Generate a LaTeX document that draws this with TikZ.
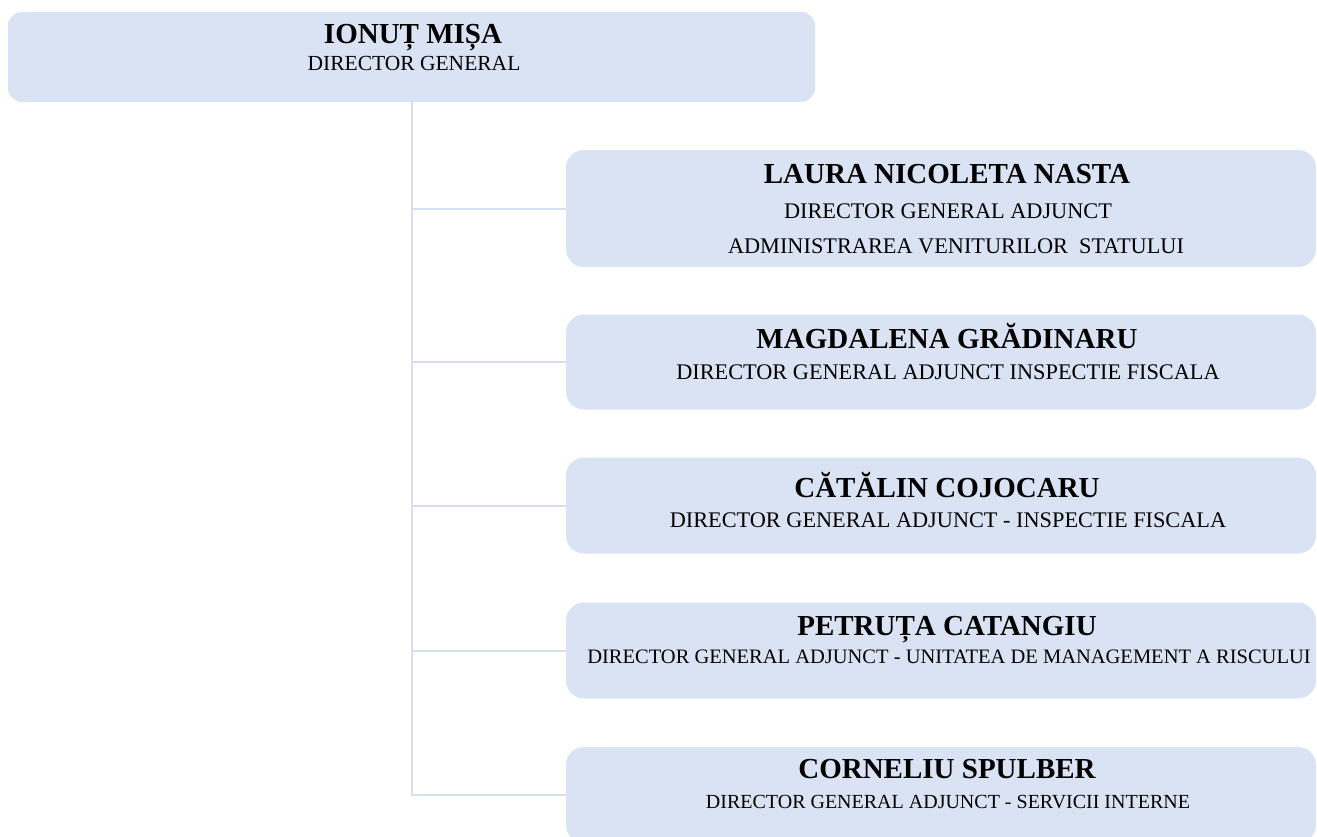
\documentclass[tikz,border=0pt]{standalone}
\usepackage{fontspec}
\setmainfont{Liberation Serif}
\definecolor{boxblue}{HTML}{DAE3F3}
\definecolor{lineblue}{HTML}{D6DFF0}
\begin{document}
\begin{tikzpicture}[x=1pt,y=-1pt,
  box/.style={fill=boxblue, draw=none, rounded corners=18pt, inner sep=0pt, minimum width=750pt},
  ttl/.style={anchor=base, inner sep=0pt, font=\fontsize{29}{29}\selectfont\bfseries},
  sub/.style={anchor=base, inner sep=0pt, font=\fontsize{22.3}{22.3}\selectfont},
  conn/.style={draw=lineblue, line width=2pt}]
\clip (0,0) rectangle (1317,836);
\fill[white] (0,0) rectangle (1317,836);
% boxes
\node[box, rounded corners=14pt, minimum width=807pt, minimum height=90pt] (top) at (411.5,57) {};
\node[box, minimum height=117pt] (c1) at (941,208.5) {};
\node[box, minimum height=95pt] (c2) at (941,362) {};
\node[box, minimum height=96pt] (c3) at (941,505.5) {};
\node[box, minimum height=96pt] (c4) at (941,650.5) {};
\node[box, minimum height=96pt] (c5) at (941,795) {};
% connectors
\draw[conn] (top.south) -- (top.south |- c5.west) -- (c5.west);
\foreach \c in {c1,c2,c3,c4}{\draw[conn] (top.south |- \c.west) -- (\c.west);}
% texts
\node[ttl] (t0) at (413,43) {IONUȚ MIȘA};
\node[sub, font=\fontsize{21.5}{21.5}\selectfont] (s0) at (414,70) {DIRECTOR GENERAL};
\node[ttl] (t1) at (947,183) {LAURA NICOLETA NASTA};
\node[sub] (s1a) at (948,218) {DIRECTOR GENERAL ADJUNCT};
\node[sub] (s1b) at (956,253) {ADMINISTRAREA VENITURILOR\ \ STATULUI};
\node[ttl] (t2) at (947,348) {MAGDALENA GRĂDINARU};
\node[sub] (s2) at (948,379) {DIRECTOR GENERAL ADJUNCT INSPECTIE FISCALA};
\node[ttl] (t3) at (947,497) {CĂTĂLIN COJOCARU};
\node[sub] (s3) at (948,527) {DIRECTOR GENERAL ADJUNCT - INSPECTIE FISCALA};
\node[ttl] (t4) at (947,635) {PETRUȚA CATANGIU};
\node[sub, font=\fontsize{20.5}{20.5}\selectfont] (s4) at (949,663) {DIRECTOR GENERAL ADJUNCT - UNITATEA DE MANAGEMENT A RISCULUI};
\node[ttl] (t5) at (947,778) {CORNELIU SPULBER};
\node[sub, font=\fontsize{20}{20}\selectfont] (s5) at (948,808) {DIRECTOR GENERAL ADJUNCT - SERVICII INTERNE};
\end{tikzpicture}
\end{document}
